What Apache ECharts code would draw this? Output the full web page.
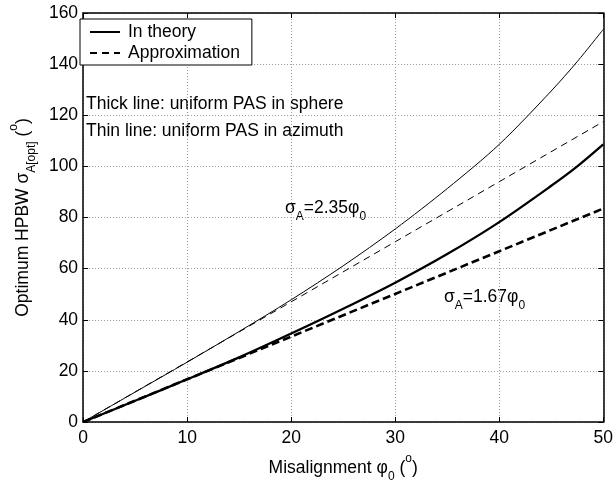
<!DOCTYPE html>
<html>
<head>
<meta charset="utf-8">
<script src="https://cdn.jsdelivr.net/npm/echarts@6/dist/echarts.min.js"></script>
<style>
  html, body { margin: 0; padding: 0; background: #fff; }
  #chart { width: 616px; height: 488px; }
</style>
</head>
<body>
<div id="chart"></div>
<script>
// Misalignment angles (degrees) at which the optimum HPBW was evaluated
const theoryPhi = [0, 5, 10, 15, 20, 25, 30, 35, 40, 45, 47.5, 50];
// Optimum HPBW, uniform PAS in azimuth (thin line)
const azimuthTheory = [0, 11.7, 23.4, 35.4, 47.8, 61.1, 75.5, 91.3, 108.6, 129.5, 141, 153.6];
// Optimum HPBW, uniform PAS in sphere (thick line)
const sphereTheory = [0, 8.3, 16.7, 25.3, 34.6, 44.3, 54.5, 65.7, 78.2, 92.4, 100, 108.6];

// Linear approximations sigma_A = 2.35 phi0 and sigma_A = 1.67 phi0
const approxPhi = [0, 10, 20, 30, 40, 50];
const azimuthApprox = [0, 23.5, 47, 70.5, 94, 117.5];
const sphereApprox = [0, 16.7, 33.4, 50.1, 66.8, 83.5];

const xTicks = [0, 10, 20, 30, 40, 50];
const yTicks = [0, 20, 40, 60, 80, 100, 120, 140, 160];

const FONT = '"Liberation Sans", Arial, Helvetica, sans-serif';
const FS = 17.5;

function pairs(xs, ys) { return xs.map((x, i) => [x, ys[i]]); }

const chart = echarts.init(document.getElementById('chart'), null, { renderer: 'canvas' });

// rich-text styles for main text, subscripts and superscripts
const baseRich = {
  t: { fontFamily: FONT, fontSize: FS, color: '#000', verticalAlign: 'middle', lineHeight: 30 },
  sub: { fontFamily: FONT, fontSize: 12, color: '#000', verticalAlign: 'bottom', lineHeight: 10 },
  sup: { fontFamily: FONT, fontSize: 12, color: '#000', verticalAlign: 'top', lineHeight: 17 }
};

const frameAxis = {
  axisLine: { show: true, onZero: false, lineStyle: { color: '#000', width: 1.5 } },
  axisTick: { show: true, inside: true, length: 5, lineStyle: { color: '#000', width: 1 } },
  axisLabel: { show: false },
  splitLine: { show: false }
};

const option = {
  animation: false,
  backgroundColor: '#fff',
  grid: { left: 74, right: 12, top: 13, bottom: 57, containLabel: false },
  legend: {
    left: 80, top: 19,
    orient: 'vertical',
    data: ['In theory', 'Approximation'],
    backgroundColor: '#fff',
    borderColor: '#000',
    borderWidth: 1,
    borderRadius: 0,
    padding: [4, 12, 3, 9],
    itemGap: 3,
    itemWidth: 30,
    itemHeight: 14,
    selectedMode: false,
    itemStyle: { opacity: 0 },
    textStyle: { fontFamily: FONT, fontSize: FS, color: '#000', padding: [0, 0, 0, 3] }
  },
  xAxis: [
    {
      type: 'value', min: 0, max: 50, interval: 10, position: 'bottom',
      name: '{t|Misalignment φ}{sub|0}{t| (}{sup|o}{t|)}',
      nameLocation: 'middle', nameGap: 31,
      nameTextStyle: { rich: baseRich },
      axisLine: { show: true, onZero: false, lineStyle: { color: '#000', width: 1.5 } },
      axisTick: { show: true, inside: true, length: 5, lineStyle: { color: '#000', width: 1 } },
      axisLabel: { fontFamily: FONT, fontSize: FS, color: '#000', margin: 7,
        formatter: v => xTicks.includes(v) ? String(v) : '' },
      splitLine: { show: true, lineStyle: { color: '#9a9a9a', width: 1, type: [1, 2] } }
    },
    Object.assign({ type: 'value', min: 0, max: 50, interval: 10, position: 'top' }, frameAxis)
  ],
  yAxis: [
    {
      type: 'value', min: 0, max: 160, interval: 20, position: 'left',
      name: '{t|Optimum HPBW σ}{sub|A[opt]}{t| (}{sup|o}{t|)}',
      nameLocation: 'middle', nameGap: 43, nameRotate: 90,
      nameTextStyle: { rich: baseRich },
      axisLine: { show: true, onZero: false, lineStyle: { color: '#000', width: 1.5 } },
      axisTick: { show: true, inside: true, length: 5, lineStyle: { color: '#000', width: 1 } },
      axisLabel: { fontFamily: FONT, fontSize: FS, color: '#000', margin: 5,
        formatter: v => yTicks.includes(v) ? String(v) : '' },
      splitLine: { show: true, lineStyle: { color: '#9a9a9a', width: 1, type: [1, 2] } }
    },
    Object.assign({ type: 'value', min: 0, max: 160, interval: 20, position: 'right' }, frameAxis)
  ],
  series: [
    {
      name: 'In theory', type: 'line', showSymbol: false, symbol: 'none',
      smooth: 0.3,
      data: pairs(theoryPhi, azimuthTheory),
      lineStyle: { color: '#000', width: 1 },
      itemStyle: { color: '#000' }
    },
    {
      name: 'Approximation', type: 'line', showSymbol: false, symbol: 'none',
      data: pairs(approxPhi, azimuthApprox),
      lineStyle: { color: '#000', width: 1, type: [7, 5] },
      itemStyle: { color: '#000' }
    },
    {
      name: 'In theory', type: 'line', showSymbol: false, symbol: 'none',
      smooth: 0.3,
      data: pairs(theoryPhi, sphereTheory),
      lineStyle: { color: '#000', width: 2.3 },
      itemStyle: { color: '#000' }
    },
    {
      name: 'Approximation', type: 'line', showSymbol: false, symbol: 'none',
      data: pairs(approxPhi, sphereApprox),
      lineStyle: { color: '#000', width: 2.6, type: [8, 4] },
      itemStyle: { color: '#000' }
    }
  ],
  graphic: [
    { type: 'text', left: 86, top: 95,
      style: { text: 'Thick line: uniform PAS in sphere', font: FS + 'px ' + FONT, fill: '#000' } },
    { type: 'text', left: 86, top: 122,
      style: { text: 'Thin line: uniform PAS in azimuth', font: FS + 'px ' + FONT, fill: '#000' } },
    { type: 'text', left: 285, top: 199,
      style: { text: '{t|σ}{sub|A}{t|=2.35φ}{sub|0}', rich: baseRich } },
    { type: 'text', left: 444, top: 288,
      style: { text: '{t|σ}{sub|A}{t|=1.67φ}{sub|0}', rich: baseRich } }
  ]
};

chart.setOption(option);
</script>
</body>
</html>
